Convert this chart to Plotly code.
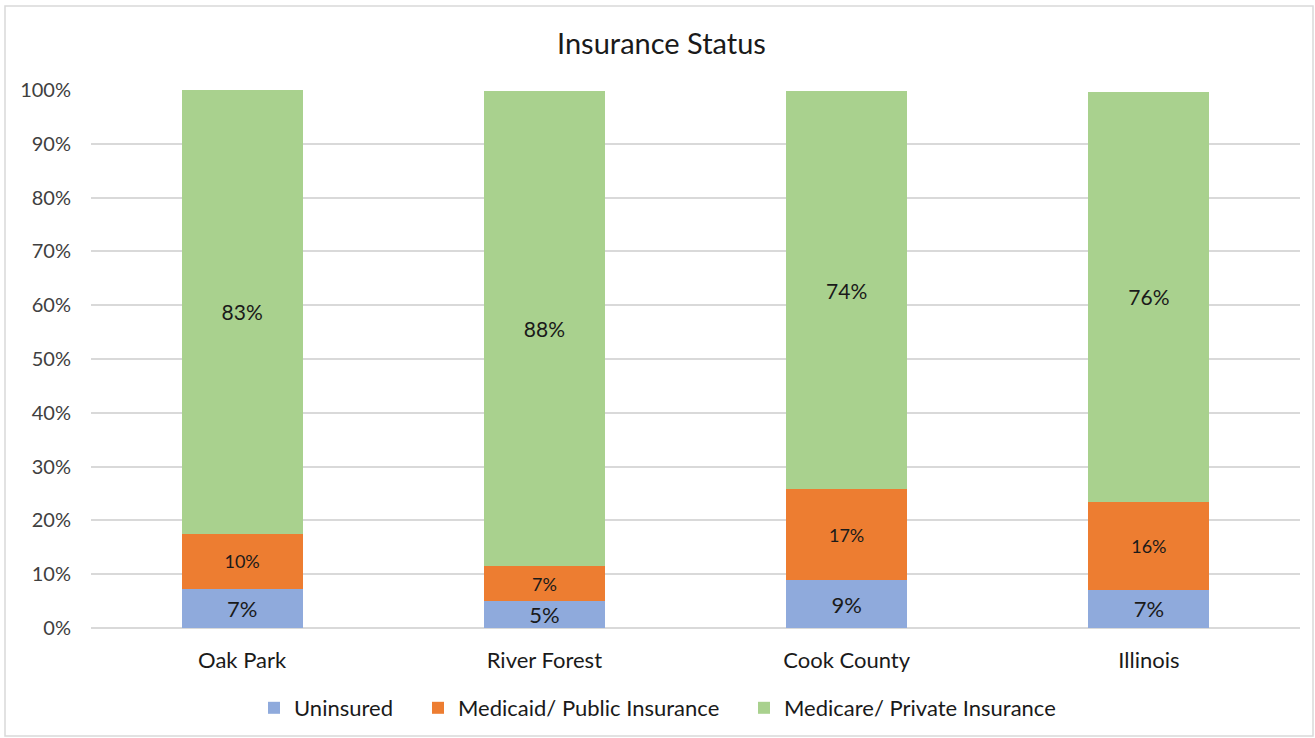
import plotly.graph_objects as go

categories = ["Oak Park", "River Forest", "Cook County", "Illinois"]
uninsured = [0.073, 0.050, 0.089, 0.071]
medicaid = [0.102, 0.065, 0.169, 0.164]
medicare = [0.825, 0.884, 0.740, 0.762]

series = [
    ("Uninsured", uninsured, "#8FAADC", 22, "legend"),
    ("Medicaid/ Public Insurance", medicaid, "#ED7D31", 18, "legend2"),
    ("Medicare/ Private Insurance", medicare, "#A9D18E", 21, "legend3"),
]

FONT = "Lato, 'Liberation Sans', sans-serif"

fig = go.Figure()
for name, vals, color, fs, lg in series:
    fig.add_trace(go.Bar(
        x=categories, y=vals, name=name, legend=lg, showlegend=True,
        marker=dict(color=color, line=dict(width=0)),
        text=vals, texttemplate="%{text:.0%}", textposition="inside",
        insidetextanchor="middle",
        textfont=dict(size=fs, color="#1a1a1a", family=FONT),
        constraintext="none",
    ))

L, R, T, B = 91, 15, 90, 110
W, H = 1315, 738
pw, ph = W - L - R, H - T - B


def legend_at(px):
    return dict(orientation="h", xref="container", yref="container",
                x=px / W, xanchor="left", y=1 - 708 / H, yanchor="middle",
                bgcolor="rgba(0,0,0,0)",
                font=dict(size=22, color="#1a1a1a", family=FONT),
                itemwidth=30)


fig.update_layout(
    showlegend=True,
    barmode="stack",
    bargap=0.6,
    width=W, height=H,
    margin=dict(l=L, r=R, t=T, b=B, autoexpand=False),
    paper_bgcolor="white", plot_bgcolor="white",
    font=dict(family=FONT, color="#404040"),
    title=dict(text="Insurance Status", x=0.503, xref="container", xanchor="center",
               y=1 - 44 / H, yref="container", yanchor="middle",
               font=dict(size=29, color="#1a1a1a", family=FONT)),
    xaxis=dict(showgrid=False, showline=False, ticks="outside", ticklen=13,
               tickcolor="rgba(0,0,0,0)", automargin=False,
               tickfont=dict(size=22, color="#1a1a1a", family=FONT)),
    yaxis=dict(range=[0, 1], tickformat=".0%", dtick=0.1, showgrid=True,
               gridcolor="#D9D9D9", gridwidth=1.5, zeroline=True, zerolinecolor="#D9D9D9",
               zerolinewidth=1.5, ticks="outside", ticklen=15, tickcolor="rgba(0,0,0,0)",
               automargin=False,
               tickfont=dict(size=20, color="#404040", family=FONT)),
    legend=legend_at(254),
    legend2=legend_at(418),
    legend3=legend_at(744),
)

fig.add_shape(type="rect", xref="paper", yref="paper",
              x0=(5 - L) / pw, x1=(1313 - L) / pw,
              y0=(H - B - 736) / ph, y1=(H - B - 6) / ph,
              line=dict(color="#D9D9D9", width=1.5), fillcolor="rgba(0,0,0,0)", layer="below")

fig.write_html("out.html", config={"displayModeBar": False},
               post_script="document.body.style.margin='0';document.body.style.overflow='hidden';")
